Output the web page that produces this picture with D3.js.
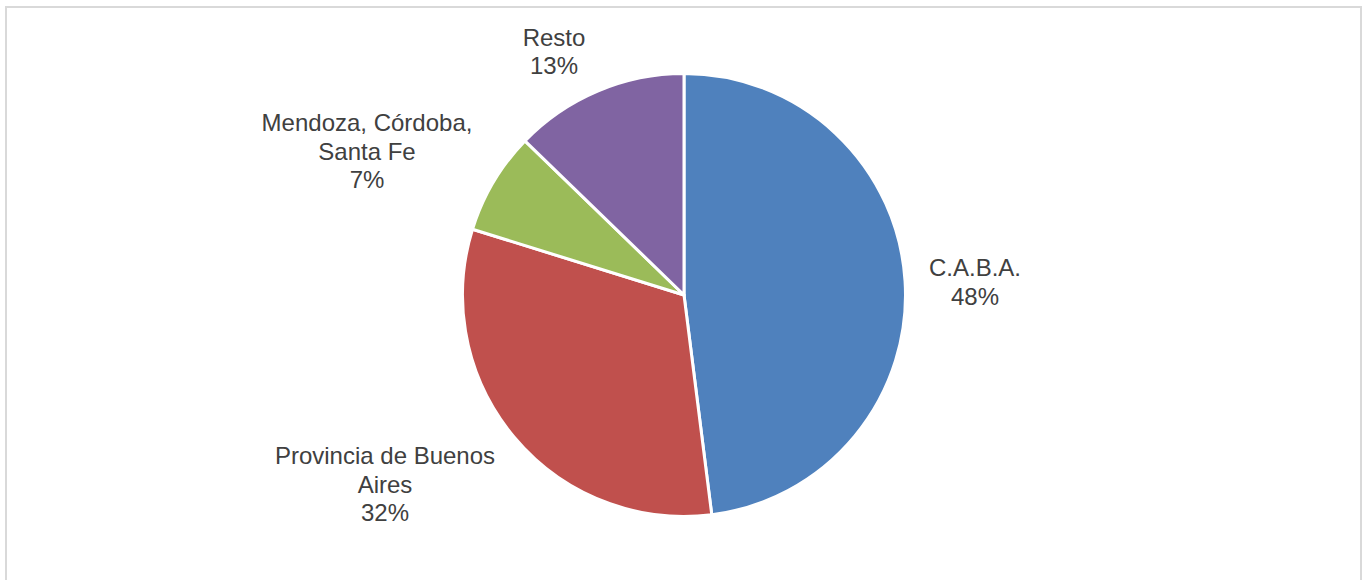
<!DOCTYPE html>
<html>
<head>
<meta charset="utf-8">
<script src="https://cdn.jsdelivr.net/npm/d3@7"></script>
<style>
  html, body { margin: 0; padding: 0; background: #fff; }
  svg { display: block; }
</style>
</head>
<body>
<svg id="chart" width="1367" height="580"></svg>
<script>
// Share by jurisdiction (percent of total)
const categories = ["C.A.B.A.", "Provincia de Buenos Aires", "Mendoza, Córdoba, Santa Fe", "Resto"];
const values = [48.0, 31.8, 7.45, 12.75];
const colors = ["#4f81bd", "#c0504d", "#9bbb59", "#8064a2"];
// How each category name wraps in its data label
const nameLines = [["C.A.B.A."], ["Provincia de Buenos", "Aires"], ["Mendoza, Córdoba,", "Santa Fe"], ["Resto"]];
// Centre of each data label block
const labelPos = [[975, 282], [385, 484], [367, 151], [554, 51.5]];

const svg = d3.select("#chart");

// chart frame
svg.append("rect")
  .attr("x", 6).attr("y", 7).attr("width", 1355).attr("height", 590)
  .attr("fill", "#fff").attr("stroke", "#d9d9d9").attr("stroke-width", 2);

const cx = 684, cy = 295, r = 221.5;

const total = d3.sum(values);
const pie = d3.pie().sort(null).value(d => d)(values);
const arc = d3.arc().innerRadius(0).outerRadius(r);

const g = svg.append("g").attr("transform", `translate(${cx},${cy})`);
g.selectAll("path").data(pie).join("path")
  .attr("d", arc)
  .attr("fill", (d, i) => colors[i])
  .attr("stroke", "#fff")
  .attr("stroke-width", 3)
  .attr("stroke-linejoin", "round");

const lh = 28.5;
categories.forEach((c, i) => {
  const pct = Math.round(values[i] / total * 100) + "%";
  const lines = nameLines[i].concat([pct]);
  const [x, y] = labelPos[i];
  const t = svg.append("text")
    .attr("x", x)
    .attr("text-anchor", "middle")
    .attr("font-family", "Liberation Sans, Arial, sans-serif")
    .attr("font-size", 24)
    .attr("fill", "#404040");
  lines.forEach((ln, k) => {
    t.append("tspan")
      .attr("x", x)
      .attr("y", y - (lines.length - 1) * lh / 2 + k * lh + 8.5)
      .text(ln);
  });
});
</script>
</body>
</html>
